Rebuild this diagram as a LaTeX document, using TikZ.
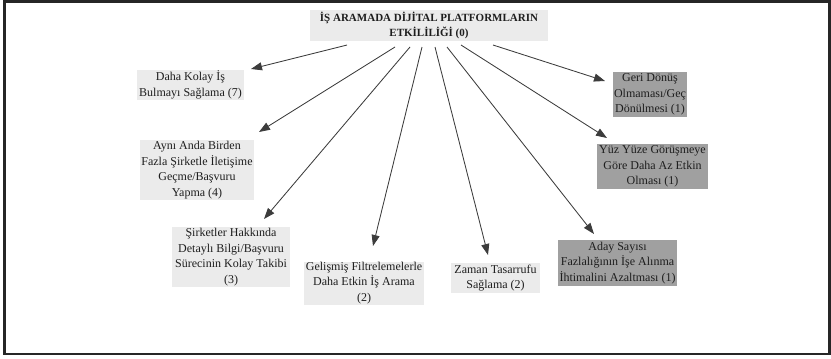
\documentclass[tikz,border=0pt]{standalone}
\usepackage{fontspec}
\setmainfont{Liberation Serif}
\usetikzlibrary{arrows.meta}
\definecolor{boxlight}{HTML}{EBEBEB}
\definecolor{boxdark}{HTML}{A0A0A0}
\definecolor{inkline}{HTML}{3C3C3C}
\definecolor{inktext}{HTML}{1E1E1E}
\definecolor{framecol}{HTML}{262626}
\begin{document}
\begin{tikzpicture}[x=1pt,y=-1pt,
  item/.style={rectangle, inner sep=0pt, align=center, text=inktext,
    font=\fontsize{12}{15.5}\selectfont},
  light/.style={item, fill=boxlight},
  darkbox/.style={item, fill=boxdark},
  link/.style={draw=inkline, line width=0.85pt,
    -{Triangle[length=11pt,width=8pt,fill=inkline]}}]
  \useasboundingbox (0,0) rectangle (831,359);
  % outer frame
  \draw[framecol, line width=2.6pt] (4.5,1.3) rectangle (829.5,354);

  % root
  \node[light, minimum width=238pt, minimum height=31pt,
        font=\bfseries\fontsize{11}{15}\selectfont] (root) at (429,25.5)
    {İŞ ARAMADA DİJİTAL PLATFORMLARIN\\ETKİLİLİĞİ (0)};

  % left / lower branches
  \node[light, minimum width=107pt, minimum height=30pt] (kolay) at (190.5,85)
    {Daha Kolay İş\\Bulmayı Sağlama (7)};
  \node[light, minimum width=114pt, minimum height=60pt] (ayni) at (197,170)
    {Aynı Anda Birden\\Fazla Şirketle İletişime\\Geçme/Başvuru\\Yapma (4)};
  \node[light, minimum width=118pt, minimum height=60pt] (sirket) at (231,257)
    {Şirketler Hakkında\\Detaylı Bilgi/Başvuru\\Sürecinin Kolay Takibi\\(3)};
  \node[light, minimum width=120pt, minimum height=43pt] (filtre) at (364,283)
    {Gelişmiş Filtrelemelerle\\Daha Etkin İş Arama\\(2)};
  \node[light, minimum width=89pt, minimum height=30pt] (zaman) at (495.5,278)
    {Zaman Tasarrufu\\Sağlama (2)};

  % right branches
  \node[darkbox, minimum width=119pt, minimum height=46pt] (aday) at (617.5,263)
    {Aday Sayısı\\Fazlalığının İşe Alınma\\İhtimalini Azaltması (1)};
  \node[darkbox, minimum width=74pt, minimum height=45pt] (geri) at (650,94.5)
    {Geri Dönüş\\Olmaması/Geç\\Dönülmesi (1)};
  \node[darkbox, minimum width=111pt, minimum height=45pt] (yuz) at (652.5,166.5)
    {Yüz Yüze Görüşmeye\\Göre Daha Az Etkin\\Olması (1)};

  % connector ends
  \coordinate (s1) at (347,45);  \coordinate (e1) at (251,69);
  \coordinate (s2) at (395,47);  \coordinate (e2) at (259,132);
  \coordinate (s3) at (410,47);  \coordinate (e3) at (264,219);
  \coordinate (s4) at (422,47);  \coordinate (e4) at (373,246);
  \coordinate (s5) at (435,47);  \coordinate (e5) at (488,255);
  \coordinate (s6) at (447,47);  \coordinate (e6) at (594,234);
  \coordinate (s7) at (461,45);  \coordinate (e7) at (607,138);
  \coordinate (s8) at (493,45);  \coordinate (e8) at (605,81);

  \draw[link] (s1) -- (e1);
  \draw[link] (s2) -- (e2);
  \draw[link] (s3) -- (e3);
  \draw[link] (s4) -- (e4);
  \draw[link] (s5) -- (e5);
  \draw[link] (s6) -- (e6);
  \draw[link] (s7) -- (e7);
  \draw[link] (s8) -- (e8);
\end{tikzpicture}
\end{document}
